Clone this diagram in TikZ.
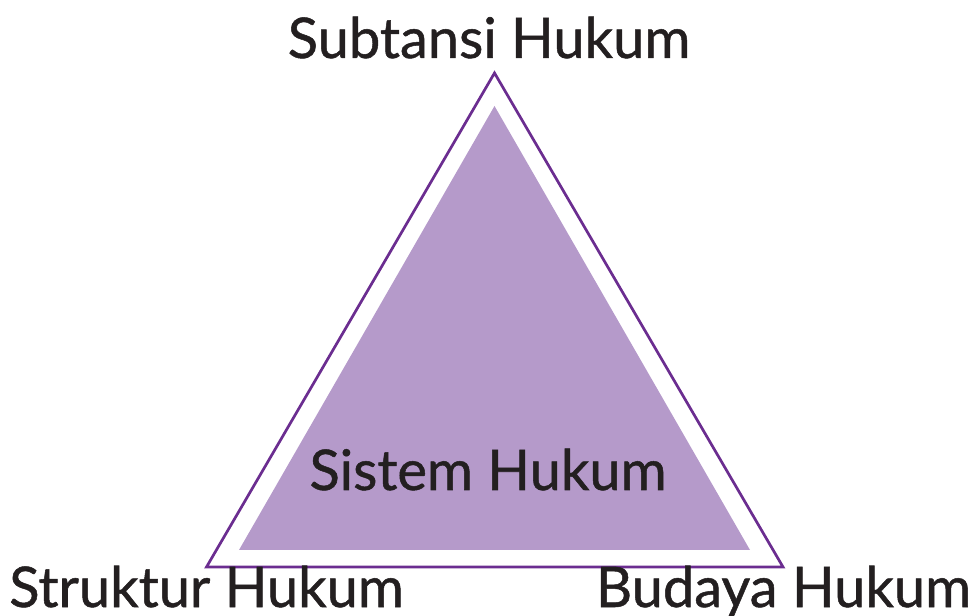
\documentclass[tikz,border=0pt]{standalone}
\usepackage{fontspec}
\setmainfont{Lato}
\newfontfamily\lblfont[FakeBold=0.9]{Lato}
\definecolor{outline}{HTML}{6B2D90}
\definecolor{fillc}{HTML}{B59ACA}
\definecolor{txt}{HTML}{231F20}
\begin{document}
\begin{tikzpicture}[x=1pt,y=1pt,
  lbl/.style={anchor=base,inner sep=0pt,text=txt,font=\lblfont\fontsize{56}{60}\selectfont}]
\useasboundingbox (0,0) rectangle (973,615);
\coordinate (oA) at (494.5,542);
\coordinate (oB) at (206.5,48);
\coordinate (oC) at (783,48);
\coordinate (iA) at (494.5,509);
\coordinate (iB) at (239,65);
\coordinate (iC) at (750,65);
\fill[fillc] (iA) -- (iB) -- (iC) -- cycle;
\draw[outline,line width=2.7pt,line join=miter] (oA) -- (oB) -- (oC) -- cycle;
\node[lbl] (top) at (489,557) {Subtansi Hukum};
\node[lbl] (mid) at (488,125) {Sistem Hukum};
\node[lbl] (left) at (206.5,8) {Struktur Hukum};
\node[lbl] (right) at (783.5,8) {Budaya Hukum};
\end{tikzpicture}
\end{document}
